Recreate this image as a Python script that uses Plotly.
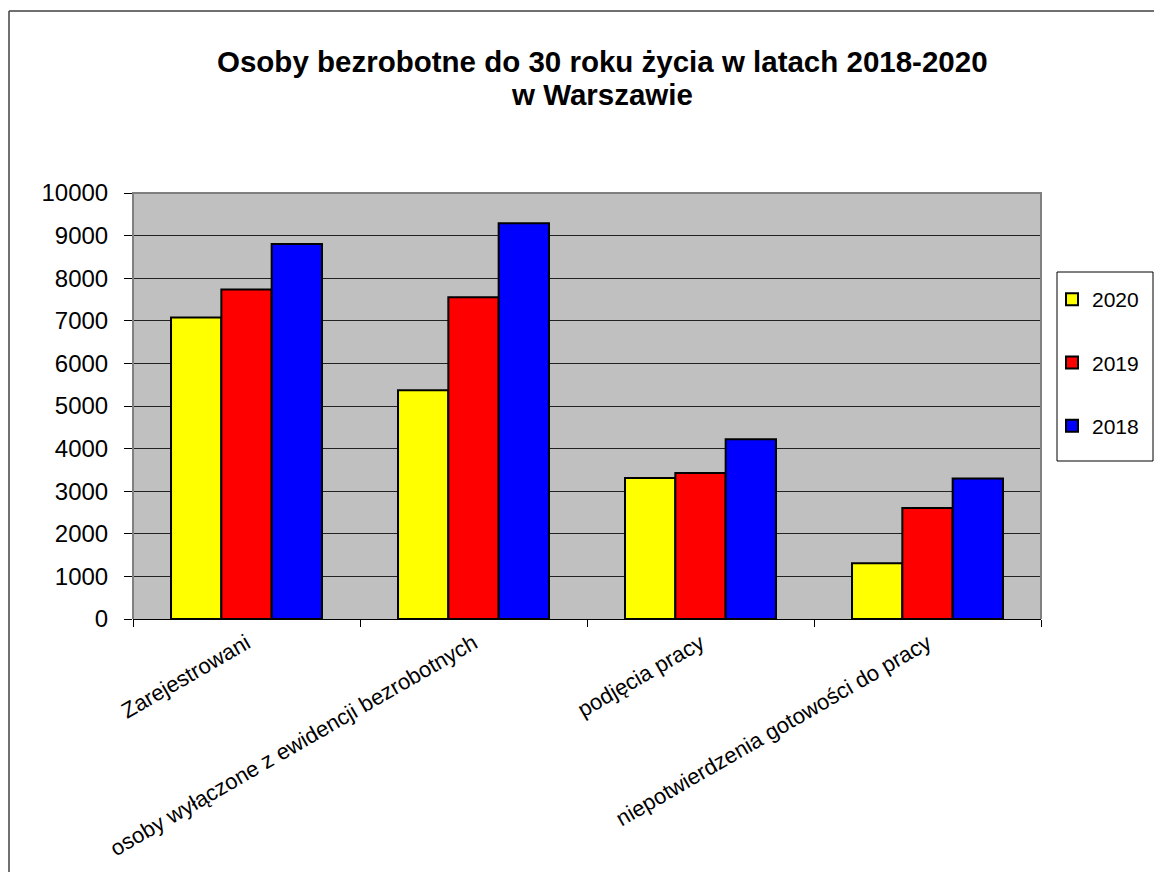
import plotly.graph_objects as go

categories = [
    "Zarejestrowani",
    "osoby wyłączone z ewidencji bezrobotnych",
    "podjęcia pracy",
    "niepotwierdzenia gotowości do pracy",
]
years = ["2020", "2019", "2018"]
values_2020 = [7080, 5370, 3310, 1310]
values_2019 = [7735, 7555, 3430, 2605]
values_2018 = [8805, 9290, 4220, 3300]
colors = ["#FFFF00", "#FF0000", "#0000FF"]
y_ticks = [0, 1000, 2000, 3000, 4000, 5000, 6000, 7000, 8000, 9000, 10000]
y_ticktext = [str(v) for v in y_ticks]
title_lines = ["Osoby bezrobotne do 30 roku życia w latach 2018-2020", "w Warszawie"]

FONT = "Liberation Sans, Arial, sans-serif"

fig = go.Figure()
for i, (name, vals) in enumerate(zip(years, [values_2020, values_2019, values_2018])):
    fig.add_trace(go.Bar(
        x=categories, y=vals, name=name, legendgroup=name,
        marker=dict(color=colors[i], line=dict(color="black", width=2)),
    ))

OFF = 8  # page body margin
W, H = 1162 - OFF, 872 - OFF
L, R, T, B = 133 - OFF, W - (1041 - OFF), 193 - OFF, H - (619 - OFF)
pw, ph = W - L - R, H - T - B


def px_x(x):
    return (x - OFF - L) / pw


def px_y(y):
    return (H - B - (y - OFF)) / ph


fig.update_layout(
    width=W, height=H,
    margin=dict(l=L, r=R, t=T, b=B, pad=0, autoexpand=False),
    paper_bgcolor="white",
    plot_bgcolor="#C0C0C0",
    font=dict(family=FONT, color="black"),
    barmode="group", bargap=0.335, bargroupgap=0,
    legend=dict(
        x=px_x(1052), y=px_y(279), xanchor="left", yanchor="top",
        borderwidth=0, bgcolor="rgba(0,0,0,0)",
        font=dict(size=21, family=FONT, color="black"),
        tracegroupgap=33,
    ),
    xaxis=dict(
        type="category", showgrid=False, showline=True, linecolor="black", linewidth=1,
        ticks="outside", tickson="boundaries", ticklen=7, tickcolor="black",
        tickangle=-30, tickfont=dict(size=22, family=FONT, color="black"),
        ticklabelstandoff=2, automargin=False,
    ),
    yaxis=dict(
        range=[0, 10000], tickvals=y_ticks, ticktext=y_ticktext,
        showgrid=True, gridcolor="#222222", gridwidth=1,
        showline=False, ticks="outside", ticklen=8, tickcolor="black",
        tickfont=dict(size=24, family=FONT, color="black"), zeroline=False,
        ticklabelstandoff=11, automargin=False,
    ),
    annotations=[
        dict(text="<b>%s</b>" % title_lines[0], xref="paper", yref="paper",
             x=px_x(602), y=px_y(61), xanchor="center", yanchor="middle",
             showarrow=False, font=dict(size=29.5, family=FONT, color="black")),
        dict(text="<b>%s</b>" % title_lines[1], xref="paper", yref="paper",
             x=px_x(602), y=px_y(94), xanchor="center", yanchor="middle",
             showarrow=False, font=dict(size=29.5, family=FONT, color="black")),
    ],
    shapes=[
        dict(type="path", xref="paper", yref="paper",
             path="M 0,0 L 0,1 L 1,1 L 1,0", line=dict(color="#808080", width=2)),
        dict(type="line", xref="paper", yref="paper",
             x0=px_x(9), x1=px_x(1170), y0=px_y(11), y1=px_y(11),
             line=dict(color="#404040", width=1.5)),
        dict(type="line", xref="paper", yref="paper",
             x0=px_x(9), x1=px_x(9), y0=px_y(11), y1=px_y(890),
             line=dict(color="#404040", width=1.5)),
        dict(type="rect", xref="paper", yref="paper",
             x0=px_x(1057), x1=px_x(1153), y0=px_y(272), y1=px_y(461),
             line=dict(color="black", width=1), fillcolor="rgba(0,0,0,0)"),
    ],
)

fig.write_html("out.html")
